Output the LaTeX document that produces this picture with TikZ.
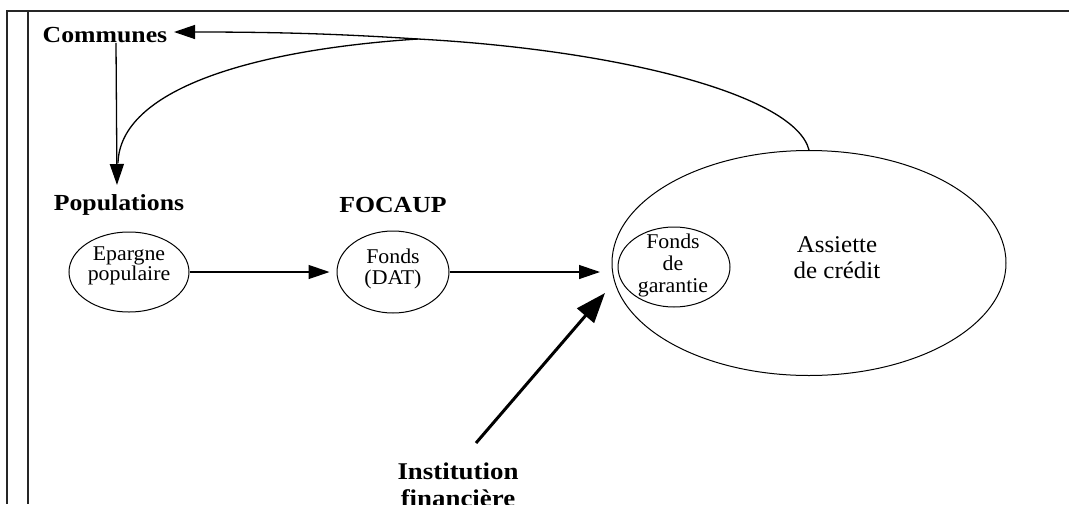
\documentclass[tikz,border=0pt]{standalone}
\usepackage{fontspec}
\setmainfont{Liberation Serif}
\newfontfamily\lblbold[FakeStretch=1.12]{Liberation Serif}
\newfontfamily\lblreg[FakeStretch=1.04]{Liberation Serif}
\usetikzlibrary{arrows.meta,shapes.geometric}

\begin{document}
\begin{tikzpicture}[x=1pt,y=-1pt,
  head/.style={font=\lblbold\bfseries\fontsize{23}{27}\selectfont, inner sep=0pt, align=center},
  blob/.style={draw, ellipse, line width=1pt, inner sep=0pt},
  txt/.style={font=\lblreg\fontsize{21}{21}\selectfont, align=center, inner sep=0pt},
  frame/.style={line width=2pt, color=black!85},
  link/.style={line width=1.3pt, -{Triangle[length=21pt,width=14pt]}},
  plain/.style={line width=1.3pt},
  bigarrow/.style={line width=3pt, -{Triangle[length=30pt,width=22pt]}}
]
\useasboundingbox (0,0) rectangle (1069,504);
\clip (0,0) rectangle (1069,504);

% page frame
\draw[frame] (1069,11) -- (7,11) -- (7,504);
\draw[frame] (28,11) -- (28,504);

% headings
\node[head] (com) at (105,35) {Communes};
\node[head] (pop) at (119,205) {Populations};
\node[head] (foc) at (393,205) {FOCAUP};
\node[head, font=\lblbold\bfseries\fontsize{24}{27}\selectfont] (inst) at (458,485) {Institution\\financière};

% ellipses
\node[blob, minimum width=120pt, minimum height=80pt] (ep) at (129,272) {};
\node[txt, font=\lblreg\fontsize{21}{19}\selectfont] (eptxt) at (129,266) {Epargne\\populaire};

\node[blob, minimum width=112pt, minimum height=82pt] (fd) at (393,272) {};
\node[txt] (fdtxt) at (393,269) {Fonds\\(DAT)};

\node[blob, minimum width=394pt, minimum height=225pt] (as) at (809,263) {};
\node[txt, font=\lblreg\fontsize{24}{26}\selectfont] (astxt) at (837,258) {Assiette\\de crédit};

\node[blob, minimum width=112pt, minimum height=80pt] (fg) at (674,267) {};
\node[txt, font=\lblreg\fontsize{21}{22}\selectfont] (fgtxt) at (673,265) {Fonds\\de\\garantie};

% connector ends
\coordinate (comIn) at (174,32);
\coordinate (popIn) at (117,185);
\coordinate (popTop) at (118,163);
\coordinate (split) at (418,39);
\coordinate (asIn) at (600,272);
\coordinate (asLow) at (605,293);
\coordinate (instTop) at (476,443);

% flows
\draw[link] ([xshift=11pt]com.south) -- (popIn);
\draw[link] (as.north) .. controls (795,95) and (620,50) .. (split)
            .. controls (340,34) and (280,32) .. (comIn);
\draw[plain] (split) .. controls (250,50) and (120,90) .. (popTop);
\draw[link] (ep.east) -- ([xshift=-7pt]fd.west);
\draw[link] (fd.east) -- (asIn);
\draw[bigarrow] (instTop) -- (asLow);
\end{tikzpicture}
\end{document}
